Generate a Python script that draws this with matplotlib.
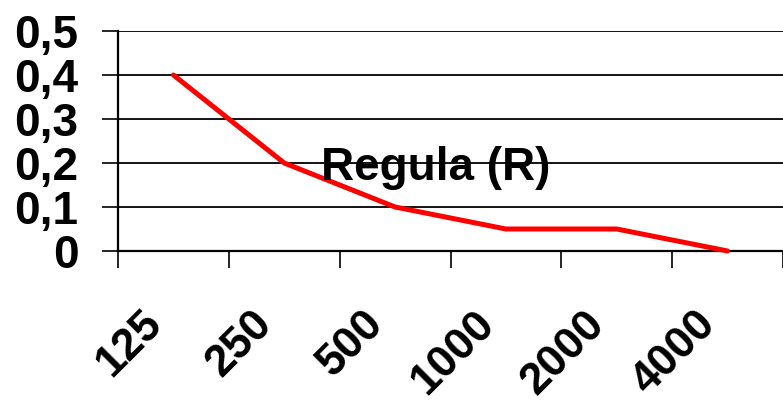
import matplotlib.pyplot as plt
import matplotlib.transforms as mtransforms
import numpy as np

plt.rcParams['font.family'] = ['Liberation Sans', 'DejaVu Sans']

# frequencies (Hz) and absorption coefficient
categories = ["125", "250", "500", "1000", "2000", "4000"]
values = [0.4, 0.2, 0.1, 0.05, 0.05, 0.0]
y_ticks = [0, 0.1, 0.2, 0.3, 0.4, 0.5]
y_labels = ["0", "0,1", "0,2", "0,3", "0,4", "0,5"]
title = "Regula (R)"

W, H = 783, 404
fig = plt.figure(figsize=(W / 100, H / 100), dpi=100)
ax = fig.add_axes([118 / W, 1 - 251 / H, 1 - 118 / W, 220 / H])

x = np.arange(len(categories))
ax.plot(x, values, color="#ff0000", lw=3.6, solid_capstyle="round", zorder=3, clip_on=False)

ax.set_ylim(0, 0.5)
ax.set_xlim(-0.5, -0.5 + (W - 118) / 111.8)

ax.set_yticks(y_ticks)
ax.set_yticklabels(y_labels, fontsize=33, fontweight="bold")
ax.tick_params(axis="y", length=11.5, width=1.2, pad=17, color="black")
ax.grid(axis="y", color="black", lw=1.3)
ax.set_axisbelow(True)

# category labels at centres, tick marks at boundaries
ax.set_xticks(x)
ax.set_xticklabels(categories, fontsize=32, fontweight="bold", rotation=45,
                   ha="right", va="center", rotation_mode="anchor")
ax.tick_params(axis="x", which="major", length=0, pad=48)
ax.set_xticks(np.arange(-0.5, len(categories), 1.0), minor=True)
ax.tick_params(axis="x", which="minor", length=12, width=1.2, color="black")
shift = mtransforms.ScaledTranslation(-18 / 100, 0, fig.dpi_scale_trans)
for lab in ax.get_xticklabels():
    lab.set_transform(lab.get_transform() + shift)

for side in ["top", "right"]:
    ax.spines[side].set_visible(False)
ax.spines["left"].set_linewidth(1.6)
ax.spines["bottom"].set_linewidth(1.6)

fig.text(436 / W, 1 - 168 / H, title, fontsize=33, fontweight="bold",
         ha="center", va="center", zorder=2)

fig.savefig("out.png", dpi=100)
